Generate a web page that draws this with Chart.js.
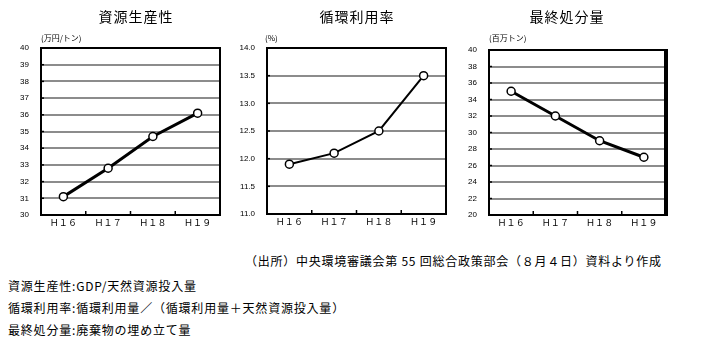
<!DOCTYPE html>
<html><head><meta charset="utf-8">
<script src="https://cdn.jsdelivr.net/npm/chart.js@4/dist/chart.umd.min.js"></script>
<style>
body{margin:0;width:706px;height:355px;background:#fff;position:relative;overflow:hidden;font-family:"Noto Sans CJK JP",sans-serif;}
.t{position:absolute;white-space:nowrap;color:#000;line-height:1;}
.title{font-size:14px;transform:translateX(-50%);letter-spacing:1px;}
.unit{font-size:8px;}
.src{font-size:12px;letter-spacing:0.75px;}
.note{font-size:12px;letter-spacing:0.8px;}
canvas{position:absolute;top:0;}
</style></head><body>
<canvas id="c1" width="230" height="240" style="left:0px;width:230px;height:240px"></canvas>
<canvas id="c2" width="230" height="240" style="left:230px;width:230px;height:240px"></canvas>
<canvas id="c3" width="246" height="240" style="left:460px;width:246px;height:240px"></canvas>
<div class="t title" style="left:136px;top:9px">資源生産性</div>
<div class="t title" style="left:357px;top:9px">循環利用率</div>
<div class="t title" style="left:567px;top:9px">最終処分量</div>
<div class="t unit" style="left:41px;top:34px">(万円/トン)</div>
<div class="t unit" style="left:265px;top:34px">(%)</div>
<div class="t unit" style="left:489px;top:34px">(百万トン)</div>
<div class="t src" style="left:245px;top:255px">（出所）中央環境審議会第 55 回総合政策部会（８月４日）資料より作成</div>
<div class="t note" style="left:8px;top:280px">資源生産性:GDP/天然資源投入量</div>
<div class="t note" style="left:8px;top:302px">循環利用率:循環利用量／（循環利用量＋天然資源投入量）</div>
<div class="t note" style="left:8px;top:324px">最終処分量:廃棄物の埋め立て量</div>
<script>
// ---- data ----
const categories = ['Ｈ１６', 'Ｈ１７', 'Ｈ１８', 'Ｈ１９'];
const productivity = [31.1, 32.8, 34.7, 36.1];      // 資源生産性 (万円/トン)
const cycleRate = [11.9, 12.1, 12.5, 13.5];         // 循環利用率 (%)
const finalDisposal = [35, 32, 29, 27];             // 最終処分量 (百万トン)
const productivityTicks = [30, 40, 1];
const cycleRateTicks = [11, 14, 0.5];
const finalDisposalTicks = [20, 40, 2];

const borderPlugin = {
  id: 'frame',
  beforeDatasetsDraw(chart, args, opts) {
    const a = chart.chartArea, ctx = chart.ctx;
    ctx.save();
    ctx.strokeStyle = '#000';
    ctx.lineWidth = 2;
    ctx.strokeRect(a.left, a.top, a.right - a.left, a.bottom - a.top);
    if (opts.rightWidth) {
      ctx.lineWidth = opts.rightWidth;
      ctx.beginPath();
      ctx.moveTo(a.right, a.top - 1); ctx.lineTo(a.right, a.bottom + 1);
      ctx.stroke();
    }
    const xs = chart.scales.x;
    ctx.lineWidth = 1.5;
    for (let i = 0; i < categories.length - 1; i++) {
      const x = (xs.getPixelForValue(i) + xs.getPixelForValue(i + 1)) / 2;
      ctx.beginPath(); ctx.moveTo(x, a.bottom); ctx.lineTo(x, a.bottom - 4); ctx.stroke();
    }
    const ys = chart.scales.y;
    ys.ticks.forEach(t => {
      const y = ys.getPixelForValue(t.value);
      ctx.beginPath(); ctx.moveTo(a.left, y); ctx.lineTo(a.left + 3, y); ctx.stroke();
    });
    ctx.restore();
  }
};

function makeChart(id, values, tk, fmt, g) {
  const W = g.width, H = 240, xH = 14;
  new Chart(document.getElementById(id), {
    type: 'line',
    data: { labels: categories, datasets: [{
      data: values, borderColor: '#000', borderWidth: g.lw, tension: 0,
      pointRadius: 4, pointHoverRadius: 4, pointBackgroundColor: '#fff',
      pointBorderColor: '#000', pointBorderWidth: 1.5, clip: false
    }]},
    options: {
      responsive: false, animation: false, devicePixelRatio: 1,
      layout: { padding: { left: 0, top: g.top, right: W - (g.right - g.left), bottom: H - g.bottom - xH } },
      plugins: { legend: { display: false }, tooltip: { enabled: false }, frame: { rightWidth: g.rightWidth || 0 } },
      scales: {
        x: {
          type: 'category', offset: true,
          grid: { display: false, drawTicks: false },
          border: { display: false },
          ticks: { padding: 2, color: '#000', font: { size: 9, family: '"Noto Sans CJK JP"' }, maxRotation: 0, autoSkip: false },
          afterFit(s) { s.height = xH; }
        },
        y: {
          min: tk[0], max: tk[1],
          grid: {
            drawTicks: false, color: '#8c8c8c',
            lineWidth: c => (c.tick && (c.tick.value === tk[0] || c.tick.value === tk[1])) ? 0 : 2
          },
          border: { display: false },
          ticks: { stepSize: tk[2], padding: 12, color: '#000', font: { size: 8, family: '"Liberation Sans"' },
                   callback: v => fmt(v) },
          afterFit(s) { s.width = g.plotLeft - g.left; }
        }
      }
    },
    plugins: [borderPlugin]
  });
}

makeChart('c1', productivity, productivityTicks, v => String(v),
  { left: 0, width: 230, plotLeft: 41, right: 220, top: 48, bottom: 215, lw: 3 });
makeChart('c2', cycleRate, cycleRateTicks, v => v.toFixed(1),
  { left: 230, width: 230, plotLeft: 267, right: 446, top: 48, bottom: 214, lw: 2 });
makeChart('c3', finalDisposal, finalDisposalTicks, v => String(v),
  { left: 460, width: 246, plotLeft: 489, right: 666, top: 50, bottom: 215, rightWidth: 4, lw: 3 });
</script>
</body></html>
